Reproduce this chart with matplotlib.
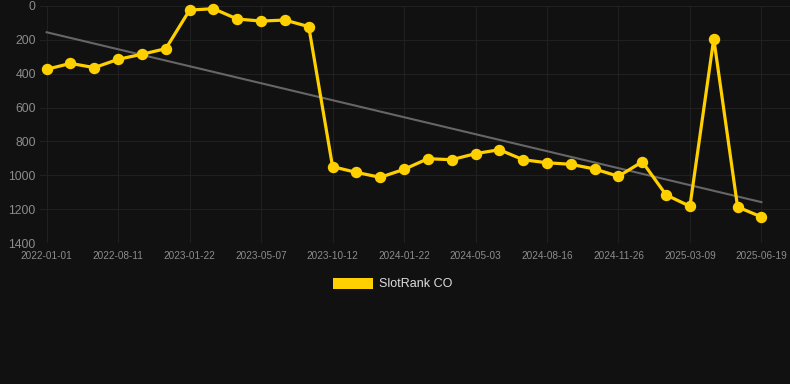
import numpy as np
import matplotlib
matplotlib.use("Agg")
import matplotlib.pyplot as plt
from matplotlib.patches import Patch

plt.rcParams["font.family"] = ["Liberation Sans", "DejaVu Sans"]

# rank per snapshot (lower = better), 31 points, labels every 3rd
ranks = [374, 339, 364, 315, 285, 252, 24, 16, 77, 89, 83, 122,
         949, 983, 1012, 965, 902, 908, 872, 849, 908, 926, 935, 963,
         1006, 920, 1116, 1183, 193, 1187, 1246]
tick_labels = ["2022-01-01", "2022-08-11", "2023-01-22", "2023-05-07",
               "2023-10-12", "2024-01-22", "2024-05-03", "2024-08-16",
               "2024-11-26", "2025-03-09", "2025-06-19"]
series_name = "SlotRank CO"

bg = "#111111"
gold = "#ffd000"

x = np.arange(len(ranks))
y = np.array(ranks)

fig = plt.figure(figsize=(7.9, 3.84), dpi=100, facecolor=bg)
ax = fig.add_axes([40/790, 1 - 243/384, 750/790, 237/384])
ax.set_facecolor(bg)

# trend line (least squares)
k, b = np.polyfit(x, y, 1)
ax.plot(x, k*x + b, color="#666666", lw=1.5, zorder=2)

ax.plot(x, y, color=gold, lw=2.3, marker="o", ms=7.2, zorder=3, clip_on=False)

ax.set_ylim(1400, 0)
ax.set_yticks(range(0, 1401, 200))
ax.set_xlim(-0.28, 31.2)
ax.set_xticks(x[::3])
ax.set_xticklabels(tick_labels)

ax.grid(True, color="#202020", lw=0.8)
ax.set_axisbelow(True)
for s in ax.spines.values():
    s.set_visible(False)
ax.tick_params(axis="y", length=0, pad=3, labelsize=8.8, labelcolor="#8c8c8c")
ax.tick_params(axis="x", length=0, pad=6, labelsize=7.2, labelcolor="#8c8c8c")

fig.legend(handles=[Patch(facecolor=gold, label=series_name)],
           loc="center", bbox_to_anchor=(0.497, 1 - 284/384), frameon=False,
           handlelength=3.2, handleheight=1.0, handletextpad=0.5,
           fontsize=9, labelcolor="#dddddd")

fig.savefig("out.png", dpi=100, facecolor=bg)
